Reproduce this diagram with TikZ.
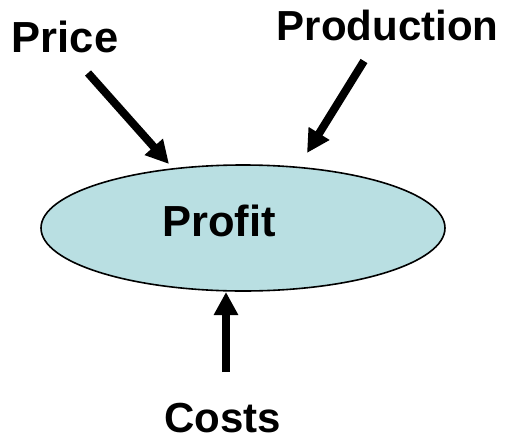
\documentclass[tikz,border=0pt]{standalone}
\usepackage{fontspec}
\setmainfont{Liberation Sans}
\usetikzlibrary{arrows.meta,shapes.geometric}
\definecolor{ovalfill}{RGB}{185,223,226}
\tikzset{
  label/.style={font=\fontsize{42}{50}\selectfont\bfseries, inner sep=0pt, anchor=base},
  biglabel/.style={label, font=\fontsize{43.5}{52}\selectfont\bfseries},
  push/.style={line width=8pt, -{Triangle[width=23pt,length=23pt]}},
}
\begin{document}
\begin{tikzpicture}[x=1pt,y=-1pt]
  \useasboundingbox (0,0) rectangle (512,437);
  % central oval
  \node[ellipse, draw=black, line width=1.6pt, fill=ovalfill,
        minimum width=404pt, minimum height=126pt, inner sep=0pt] (oval) at (243,228) {};
  \node[biglabel] (profit) at (219,236) {Profit};
  % inputs
  \node[biglabel] (price) at (65,52) {Price};
  \node[label] (production) at (387.5,40) {Production};
  \node[label] (costs) at (222.5,432.5) {Costs};
  % arrow tails and tips
  \coordinate (pricetail) at (88,73);
  \coordinate (pricetip) at (169,164);
  \coordinate (prodtail) at (364,61);
  \coordinate (prodtip) at (307,153);
  \coordinate (coststail) at (226,372);
  \coordinate (coststip) at (226,292);
  \draw[push] (pricetail) -- (pricetip);
  \draw[push] (prodtail) -- (prodtip);
  \draw[push] (coststail) -- (coststip);
\end{tikzpicture}
\end{document}
